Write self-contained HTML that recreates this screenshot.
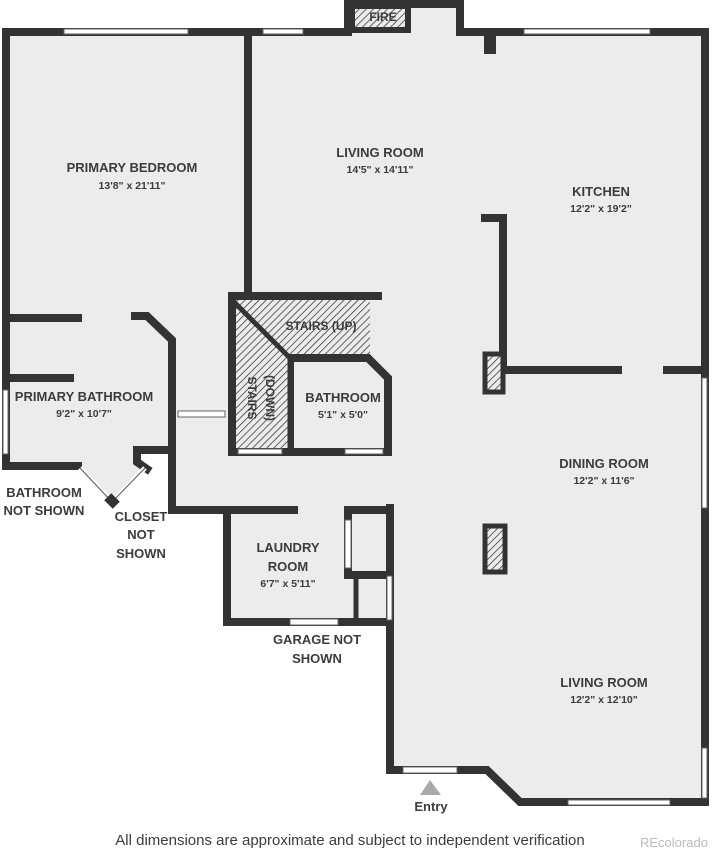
<!DOCTYPE html>
<html><head><style>
body{margin:0;background:#fff;width:713px;height:850px;overflow:hidden}
svg{display:block}
text{font-family:"Liberation Sans",sans-serif;fill:#3c3c3c;text-anchor:middle}
.t{font-size:13px;font-weight:bold}
.d{font-size:10.5px;font-weight:bold}
</style></head><body>
<svg width="713" height="850" viewBox="0 0 713 850">
<defs>
<pattern id="h" width="5" height="5" patternUnits="userSpaceOnUse" patternTransform="rotate(45)">
<rect width="5" height="5" fill="#ececec"/><line x1="0" y1="0" x2="0" y2="5" stroke="#333" stroke-width="1.5"/>
</pattern>
</defs>
<polygon fill="#ececec" points="6,32 348,32 348,4 460,4 460,32 705,32 705,802 520,802 487,770 390,770 390,622 227,622 227,510 172,510 172,450 135,450 145,465 112,502 78,466 6,466"/>
<g fill="none" stroke="#333" stroke-width="8" stroke-linejoin="miter" stroke-linecap="square">
<polyline points="6,466 6,32 348,32"/>
<polyline points="348,32 348,4 460,4 460,32 705,32 705,802 520,802 487,770 390,770 390,508"/>
<rect x="352" y="6" width="56" height="24" fill="url(#h)" stroke-width="6"/>
<polyline points="6,466 78,466"/>
<line x1="248" y1="32" x2="248" y2="296"/>
<line x1="6" y1="318" x2="78" y2="318"/>
<line x1="6" y1="378" x2="70" y2="378"/>
<polyline points="135,316 147,316 172,340 172,510 294,510"/>
<polyline points="172,450 137,450 137,462 147,469"/>
<polyline points="378,296 232,296 232,452 388,452 388,378 368,358 290,358 290,452"/>
<polyline points="227,510 227,622 390,622"/>
<polyline points="390,510 348,510 348,575 390,575"/>
<line x1="356" y1="575" x2="356" y2="622" stroke-width="5"/>
<polyline points="485,218 503,218 503,370 618,370"/>
<line x1="667" y1="370" x2="705" y2="370"/>
</g>
<polygon fill="url(#h)" points="236,300 370,300 370,354 290,354 290,448 236,448"/>
<polyline points="232,300 290,358 290,452" fill="none" stroke="#333" stroke-width="5"/>
<line x1="232" y1="296" x2="232" y2="452" stroke="#333" stroke-width="8"/>
<rect x="485" y="354" width="18" height="38" fill="url(#h)" stroke="#333" stroke-width="5"/>
<rect x="485" y="526" width="20" height="46" fill="url(#h)" stroke="#333" stroke-width="5"/>
<rect x="484" y="34" width="12" height="20" fill="#333"/>
<g fill="#fff" stroke="#666" stroke-width="1">
<rect x="64" y="29" width="124" height="5"/>
<rect x="263" y="29" width="40" height="5"/>
<rect x="524" y="29" width="126" height="5"/>
<rect x="702" y="378" width="5" height="130"/>
<rect x="702" y="748" width="5" height="50"/>
<rect x="568" y="800" width="102" height="5"/>
<rect x="403" y="767" width="54" height="6"/>
<rect x="3" y="390" width="5" height="64"/>
<rect x="178" y="411" width="47" height="6"/>
<rect x="238" y="449" width="44" height="5"/>
<rect x="345" y="449" width="38" height="5"/>
<rect x="290" y="619" width="48" height="6"/>
<rect x="345" y="520" width="6" height="48"/>
<rect x="387" y="576" width="5" height="44"/>
</g>
<g stroke="#fff" stroke-width="5" fill="none">
<line x1="80" y1="468" x2="112" y2="502"/><line x1="112" y1="502" x2="145" y2="468"/>
</g>
<g stroke="#555" stroke-width="1" fill="none">
<line x1="80" y1="468" x2="112" y2="502"/><line x1="112" y1="502" x2="145" y2="468"/>
</g>
<rect x="106" y="496" width="12" height="10" fill="#333" transform="rotate(45 112 501)"/>
<polygon points="420,795 430,780 441,795" fill="#aaa"/>
<text x="383" y="21" class="t" style="font-size:12px">FIRE</text>
<text x="132" y="172" class="t">PRIMARY BEDROOM</text>
<text x="132" y="189" class="d">13'8" x 21'11"</text>
<text x="380" y="157" class="t">LIVING ROOM</text>
<text x="380" y="173" class="d">14'5" x 14'11"</text>
<text x="601" y="196" class="t">KITCHEN</text>
<text x="601" y="212" class="d">12'2" x 19'2"</text>
<text x="321" y="330" class="t" style="font-size:12px">STAIRS (UP)</text>
<text x="248" y="398" class="t" style="font-size:12px" transform="rotate(90 248 398)">STAIRS</text>
<text x="266" y="398" class="t" style="font-size:12px" transform="rotate(90 266 398)">(DOWN)</text>
<text x="343" y="402" class="t">BATHROOM</text>
<text x="343" y="418" class="d">5'1" x 5'0"</text>
<text x="84" y="401" class="t">PRIMARY BATHROOM</text>
<text x="84" y="417" class="d">9'2" x 10'7"</text>
<text x="44" y="497" class="t">BATHROOM</text>
<text x="44" y="515" class="t">NOT SHOWN</text>
<text x="141" y="521" class="t">CLOSET</text>
<text x="141" y="539" class="t">NOT</text>
<text x="141" y="558" class="t">SHOWN</text>
<text x="604" y="468" class="t">DINING ROOM</text>
<text x="604" y="484" class="d">12'2" x 11'6"</text>
<text x="288" y="552" class="t">LAUNDRY</text>
<text x="288" y="571" class="t">ROOM</text>
<text x="288" y="587" class="d">6'7" x 5'11"</text>
<text x="317" y="644" class="t">GARAGE NOT</text>
<text x="317" y="663" class="t">SHOWN</text>
<text x="604" y="687" class="t">LIVING ROOM</text>
<text x="604" y="703" class="d">12'2" x 12'10"</text>
<text x="431" y="811" class="t">Entry</text>
<text x="350" y="845" style="font-size:15px">All dimensions are approximate and subject to independent verification</text>
<text x="640" y="847" style="font-size:13px;fill:#bbb;text-anchor:start">REcolorado</text>
</svg>
</body></html>
